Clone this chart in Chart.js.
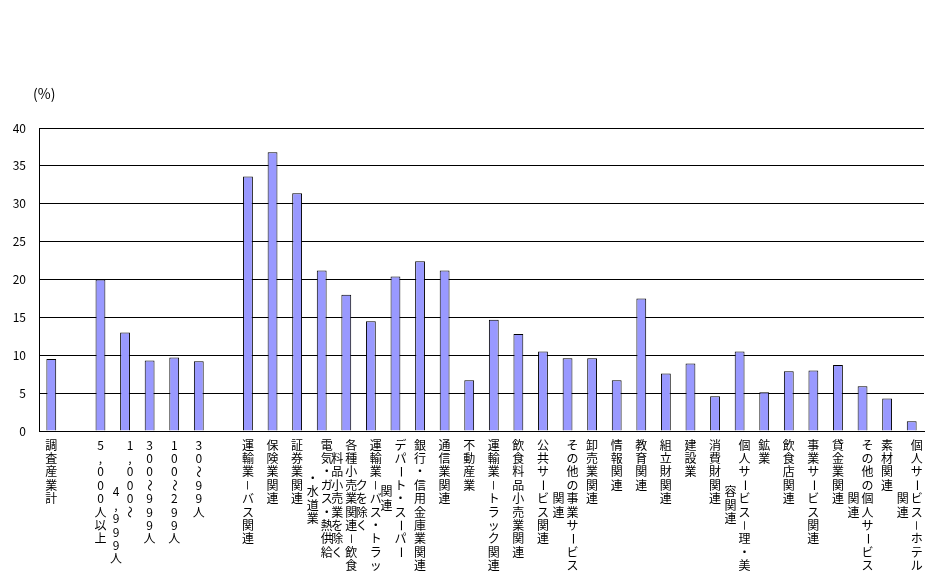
<!DOCTYPE html>
<html>
<head>
<meta charset="utf-8">
<script src="https://cdn.jsdelivr.net/npm/chart.js@4"></script>
<style>
  html, body { margin: 0; padding: 0; background: #fff; }
  #wrap { width: 944px; height: 587px; }
</style>
</head>
<body>
<div id="wrap"><canvas id="barChart"></canvas></div>
<script>
// categories: each entry is a list of stacked columns (read right to left)
const categories = [
    ['調査産業計'], [''],
    ['5,000人以上'], ['1,000～', '4,999人'], ['300～999人'], ['100～299人'], ['30～99人'], [''],
    ['運輸業－バス関連'], ['保険業関連'], ['証券業関連'],
    ['電気・ガス・熱供給', '・水道業'],
    ['各種小売業関連－飲食', '料品小売業を除く'],
    ['運輸業－バス・トラッ', 'クを除く'],
    ['デパート・スーパー', '関連'],
    ['銀行・信用金庫業関連'], ['通信業関連'], ['不動産業'], ['運輸業－トラック関連'],
    ['飲食料品小売業関連'], ['公共サービス関連'],
    ['その他の事業サービス', '関連'],
    ['卸売業関連'], ['情報関連'], ['教育関連'], ['組立財関連'], ['建設業'], ['消費財関連'],
    ['個人サービス－理・美', '容関連'],
    ['鉱業'], ['飲食店関連'], ['事業サービス関連'], ['貸金業関連'],
    ['その他の個人サービス', '関連'],
    ['素材関連'],
    ['個人サービス－ホテル', '関連']
];
const values = [
    9.5, null,
    20.0, 13.0, 9.3, 9.7, 9.2, null,
    33.6, 36.8, 31.4, 21.2, 18.0, 14.5, 20.4, 22.4, 21.2, 6.7, 14.7,
    12.8, 10.5, 9.6, 9.6, 6.7, 17.5, 7.6, 8.9, 4.6, 10.5, 5.1, 7.9, 8.0, 8.7, 5.9, 4.3, 1.3
];
const yTicks = [0, 5, 10, 15, 20, 25, 30, 35, 40];
const unitLabel = '(%)';

const rotatedChars = 'ー－～';
const secondColumnShift = { 3: 3.5 };
const labelFont = '12px "Noto Sans CJK JP"';

const verticalLabels = {
    id: 'verticalLabels',
    afterDraw(chart) {
        const ctx = chart.ctx;
        const x = chart.scales.x;
        const top = chart.chartArea.bottom + 14;
        ctx.save();
        ctx.font = labelFont;
        ctx.fillStyle = '#000';
        ctx.textAlign = 'center';
        ctx.textBaseline = 'middle';
        categories.forEach((cols, i) => {
            const cx = x.getPixelForValue(i);
            const two = cols.length > 1;
            cols.forEach((text, k) => {
                const colX = two ? (k === 0 ? cx + 5 : cx - 9) : cx;
                let shift = 0;
                if (k > 0) {
                    shift = secondColumnShift[i] ?? (cols[0].length - text.length) / 2;
                }
                [...text].forEach((ch, r) => {
                    const y = top + (r + shift) * 13.4;
                    if (rotatedChars.includes(ch)) {
                        ctx.save();
                        ctx.translate(colX, y);
                        ctx.rotate(Math.PI / 2);
                        ctx.fillText(ch, 0, 0);
                        ctx.restore();
                    } else {
                        ctx.fillText(ch, colX, y);
                    }
                });
            });
        });
        // unit label
        ctx.font = '14px "Noto Sans CJK JP"';
        ctx.textAlign = 'left';
        ctx.fillText(unitLabel, 33, 94);
        ctx.restore();
    }
};

const ctxBar = document.getElementById('barChart').getContext('2d');
new Chart(ctxBar, {
    type: 'bar',
    data: {
        labels: categories.map(c => c.join('')),
        datasets: [{
            data: values,
            backgroundColor: '#9999ff',
            borderColor: '#000000',
            borderWidth: 1,
            barPercentage: 0.4,
            categoryPercentage: 1.0
        }]
    },
    options: {
        responsive: true,
        maintainAspectRatio: false,
        animation: false,
        layout: { padding: { top: 128, right: 20, left: 0, bottom: 0 } },
        plugins: {
            legend: { display: false },
            tooltip: { enabled: false }
        },
        scales: {
            x: {
                grid: { display: false },
                border: { color: '#000', width: 1 },
                ticks: { display: false },
                afterFit(scale) { scale.height = 156; }
            },
            y: {
                min: 0,
                max: 40,
                afterBuildTicks(scale) { scale.ticks = yTicks.map(v => ({ value: v })); },
                grid: { color: '#000', lineWidth: 1, drawTicks: false },
                border: { color: '#000', width: 1 },
                ticks: {
                    color: '#000',
                    padding: 13,
                    font: { family: '"Noto Sans CJK JP"', size: 12 }
                },
                afterFit(scale) { scale.width = 39; }
            }
        }
    },
    plugins: [verticalLabels]
});
</script>
</body>
</html>
